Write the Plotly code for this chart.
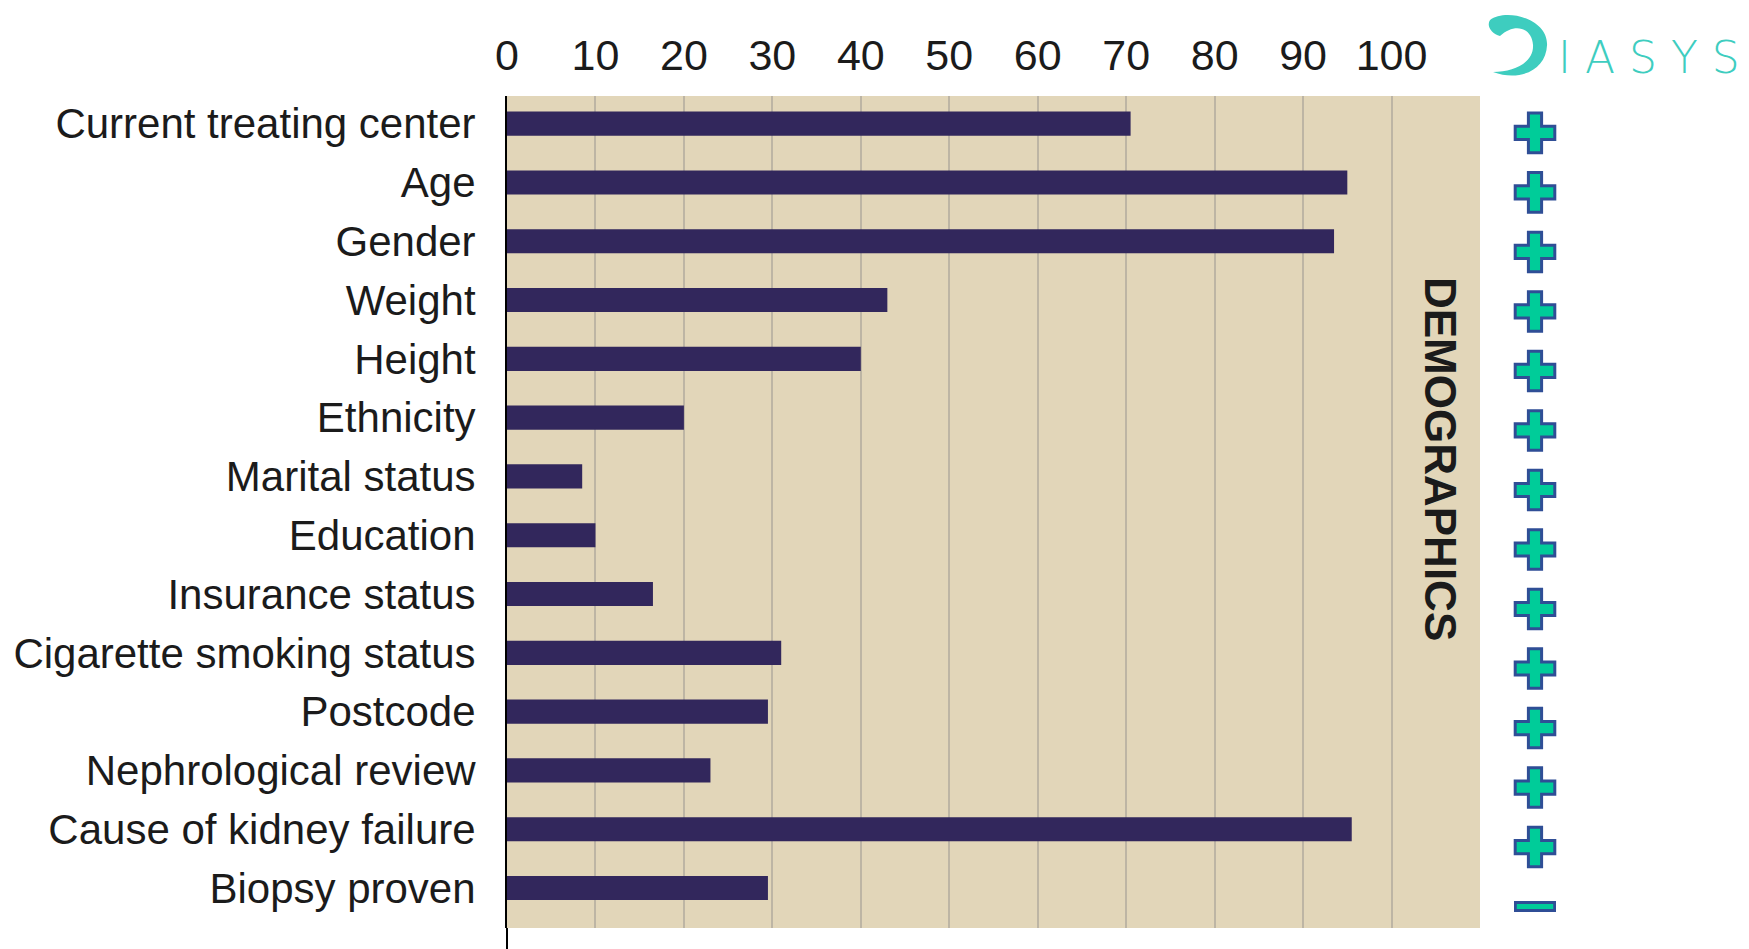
import plotly.graph_objects as go

categories = ["Current treating center", "Age", "Gender", "Weight", "Height",
              "Ethnicity", "Marital status", "Education", "Insurance status",
              "Cigarette smoking status", "Postcode", "Nephrological review",
              "Cause of kidney failure", "Biopsy proven"]
values = [70.5, 95, 93.5, 43, 40, 20, 8.5, 10, 16.5, 31, 29.5, 23, 95.5, 29.5]
signs = ["+"] * 13 + ["-"]
x_ticks = [0, 10, 20, 30, 40, 50, 60, 70, 80, 90, 100]
section = "DEMOGRAPHICS"

# page is 1749x949 but the body has an 8px margin
OFF = 8
W, H = 1749 - OFF, 949 - OFF
L, R, T, B = 507 - OFF, 0, 96 - OFF, 21
pw = W - L - R
ph = H - T - B

def px(x):
    return (x - OFF - L) / pw

def py(y):
    return (H - B - (y - OFF)) / ph

FONT = "Liberation Sans, Arial, Helvetica, sans-serif"
BEIGE = "#E2D6B9"
BAR = "#32275C"
TEAL = "#00CC99"
NAVY = "#2F4E96"

fig = go.Figure()
fig.add_trace(go.Bar(
    y=categories, x=values, orientation="h",
    marker_color=BAR, marker_line_width=0, width=0.41,
    xaxis="x", yaxis="y", hoverinfo="skip",
))

plus_cats = [c for c, s in zip(categories, signs) if s == "+"]
minus_cats = [c for c, s in zip(categories, signs) if s == "-"]
fig.add_trace(go.Scatter(
    y=plus_cats, x=[0] * len(plus_cats), mode="markers", xaxis="x2", yaxis="y2",
    marker=dict(symbol="cross", size=33, color=TEAL, line=dict(color=NAVY, width=3)),
    hoverinfo="skip", cliponaxis=False,
))
fig.add_trace(go.Scatter(
    y=minus_cats, x=[0] * len(minus_cats), mode="markers", xaxis="x2", yaxis="y2",
    marker=dict(symbol="line-ew", size=30, line=dict(color=NAVY, width=11)),
    hoverinfo="skip", cliponaxis=False,
))
fig.add_trace(go.Scatter(
    y=minus_cats, x=[0] * len(minus_cats), mode="markers", xaxis="x2", yaxis="y2",
    marker=dict(symbol="line-ew", size=26, line=dict(color=TEAL, width=5)),
    hoverinfo="skip", cliponaxis=False,
))

fig.update_layout(
    width=W, height=H,
    margin=dict(l=L, r=R, t=T, b=B),
    paper_bgcolor="white", plot_bgcolor="rgba(0,0,0,0)",
    showlegend=False,
    xaxis=dict(
        domain=[0, px(1480)], range=[0, 110], side="top", anchor="y",
        tickvals=x_ticks, ticks="", showline=False, zeroline=False,
        showgrid=True, gridcolor="#BDB5A4", gridwidth=1.5,
        tickfont=dict(family=FONT, size=43, color="#1b1b1b"),
        ticklabelstandoff=16, automargin=False,
    ),
    yaxis=dict(
        type="category", categoryorder="array", categoryarray=categories,
        tickmode="array", tickvals=categories, ticktext=categories,
        range=[13.68, -0.47], anchor="x",
        showgrid=False, zeroline=False, ticks="",
        showline=True, linecolor="black", linewidth=2,
        tickfont=dict(family=FONT, size=42, color="#1b1b1b"),
        ticklabelstandoff=21, automargin=False,
    ),
    xaxis2=dict(domain=[px(1500), px(1570)], range=[-1, 1], anchor="y2",
                visible=False, automargin=False),
    yaxis2=dict(type="category", categoryorder="array", categoryarray=categories,
                range=[13.36, -0.62], anchor="x2", visible=False, automargin=False),
)

# beige panel behind the grid
fig.add_shape(type="rect", xref="x domain", yref="y domain", x0=0, x1=1, y0=0, y1=1,
              fillcolor=BEIGE, line_width=0, layer="below")
# axis line continues below the panel
fig.add_shape(type="line", xref="paper", yref="paper", x0=0, x1=0, y0=0, y1=py(949),
              line=dict(color="black", width=2))

fig.add_annotation(
    text=section, textangle=90, xref="paper", yref="paper",
    x=px(1440), y=py(459), xanchor="center", yanchor="middle", showarrow=False,
    font=dict(family=FONT, size=44, color="#1b1b1b", weight="bold"),
)

# logo
crescent = [(1490, 20), (1505, 8), (1548, 18), (1547, 45), (1546, 70), (1520, 82),
            (1493, 72), (1515, 72), (1534, 62), (1533, 45), (1532, 28), (1515, 22),
            (1500, 36), (1492, 34), (1486, 26), (1490, 20)]
pts = ["%.4f,%.4f" % (px(a), py(b)) for a, b in crescent]
path = "M" + pts[0]
for i in range(1, len(pts), 3):
    path += " C" + " ".join(pts[i:i + 3])
path += " Z"
fig.add_shape(type="path", xref="paper", yref="paper", path=path,
              fillcolor="#3ECDBF", line_width=0)
fig.add_annotation(
    text="I A S Y S", xref="paper", yref="paper", x=px(1556), y=py(57),
    xanchor="left", yanchor="middle", showarrow=False,
    font=dict(family="DejaVu Sans", size=44, color="#3ECDBF", weight=200),
)

fig.write_html("out.html")
